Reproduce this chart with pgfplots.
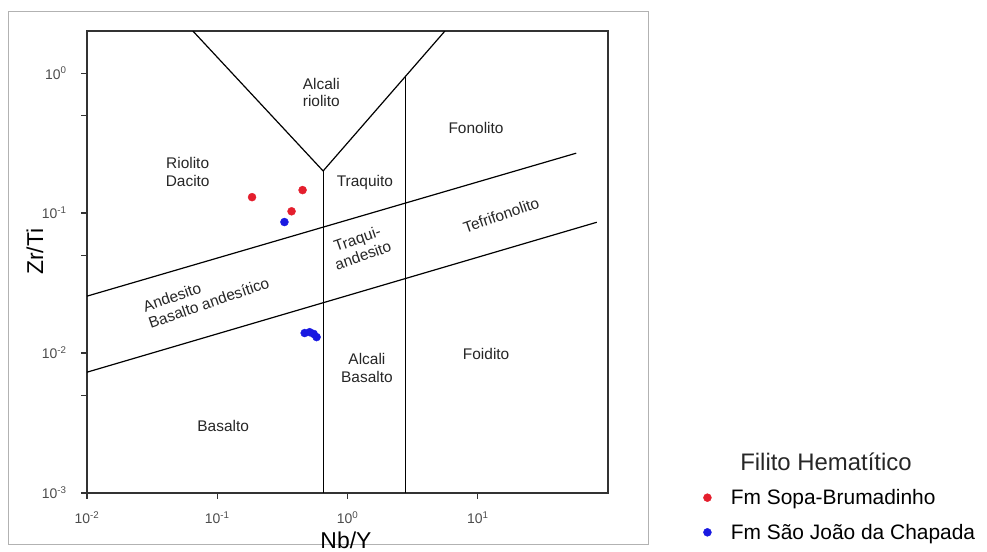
\documentclass[border=0pt]{standalone}
\usepackage{fontspec}
\setmainfont{Liberation Sans}
\usepackage{pgfplots}
\pgfplotsset{compat=1.18}
\definecolor{ptred}{RGB}{228,30,45}
\definecolor{ptblue}{RGB}{25,25,225}
\begin{document}
\begin{tikzpicture}
\useasboundingbox (0,0) rectangle (987bp,552bp);
\draw[black!30, line width=1bp] (8bp,7bp) rectangle (648bp,540bp);
\begin{axis}[
  at={(87bp,59bp)}, anchor=south west,
  scale only axis, width=521bp, height=462bp,
  xmode=log, ymode=log,
  xmin=0.01, xmax=100, ymin=0.001, ymax=2,
  xtick={0.01,0.1,1,10},
  xticklabels={10\textsuperscript{-2},10\textsuperscript{-1},10\textsuperscript{0},10\textsuperscript{1}},
  ytick={0.001,0.01,0.1,1},
  yticklabels={10\textsuperscript{-3},10\textsuperscript{-2},10\textsuperscript{-1},10\textsuperscript{0}},
  xminorticks=false,
  minor ytick={0.005,0.05,0.5},
  tick pos=left, tick align=outside,
  major tick length=6bp, minor tick length=6bp,
  every tick/.style={black!80, line width=1.2bp},
  tick label style={font=\fontsize{14}{14}\selectfont, text=black!70},
  xticklabel style={yshift=-9bp},
  yticklabel style={xshift=-11bp},
  axis line style={black!80, line width=2bp},
  xlabel={Nb/Y}, ylabel={Zr/Ti},
  label style={font=\fontsize{23}{23}\selectfont},
  xlabel style={at={(axis description cs:0.497,-0.1017)}, anchor=center},
  ylabel style={at={(axis description cs:-0.0998,0.522)}, anchor=center},
  legend style={at={(axis description cs:1.168,-0.0476)}, anchor=west, draw=none, fill=none,
    font=\fontsize{21}{21}\selectfont, row sep=14bp, cells={anchor=west}},
  legend image code/.code={\draw[#1] plot coordinates {(0.3cm,0cm)}; \path (0cm,0cm) (1.05cm,0cm);},
  clip=true,
]
% classification boundaries
\addplot[black, line width=1.2bp, forget plot] coordinates {(0.065,2) (0.65,0.2) (5.6,2)};
\addplot[black, line width=1.2bp, forget plot] coordinates {(0.65,0.001) (0.65,0.2)};
\addplot[black, line width=1.2bp, forget plot] coordinates {(2.8,0.001) (2.8,0.95)};
\addplot[black, line width=1.2bp, forget plot] coordinates {(0.01,0.0255) (57,0.268)};
\addplot[black, line width=1.2bp, forget plot] coordinates {(0.01,0.0073) (82,0.086)};
% data
\addplot[only marks, mark=*, mark size=4bp, draw=ptred, fill=ptred] coordinates {
  (0.185,0.130) (0.452,0.146) (0.372,0.103)};
\addlegendentry{Fm Sopa-Brumadinho}
\addplot[only marks, mark=*, mark size=4bp, draw=ptblue, fill=ptblue] coordinates {
  (0.328,0.0863) (0.469,0.0139) (0.512,0.0141) (0.550,0.0137) (0.579,0.0130)};
\addlegendentry{Fm São João da Chapada}
% region labels
\begin{scope}[every node/.style={font=\fontsize{15.5}{17.5}\selectfont, text=black!85, align=center}]
\node at (axis cs:0.63,0.73) {Alcali\\riolito};
\node at (axis cs:9.7,0.405) {Fonolito};
\node at (axis cs:0.0593,0.196) {Riolito\\Dacito};
\node at (axis cs:1.36,0.166) {Traquito};
\node[rotate=19] at (axis cs:15.1,0.0968) {Tefrifonolito};
\node[rotate=19] at (axis cs:1.25,0.0572) {Traqui-\\andesito};
\node[rotate=19, align=left] at (axis cs:0.082,0.0262) {Andesito\\Basalto andesítico};
\node at (axis cs:1.41,0.00781) {Alcali\\Basalto};
\node at (axis cs:11.6,0.0098) {Foidito};
\node at (axis cs:0.111,0.00301) {Basalto};
\end{scope}
\end{axis}
\node[font=\fontsize{24}{24}\selectfont, text=black!85] at (826bp,90bp) {Filito Hematítico};
\end{tikzpicture}
\end{document}
